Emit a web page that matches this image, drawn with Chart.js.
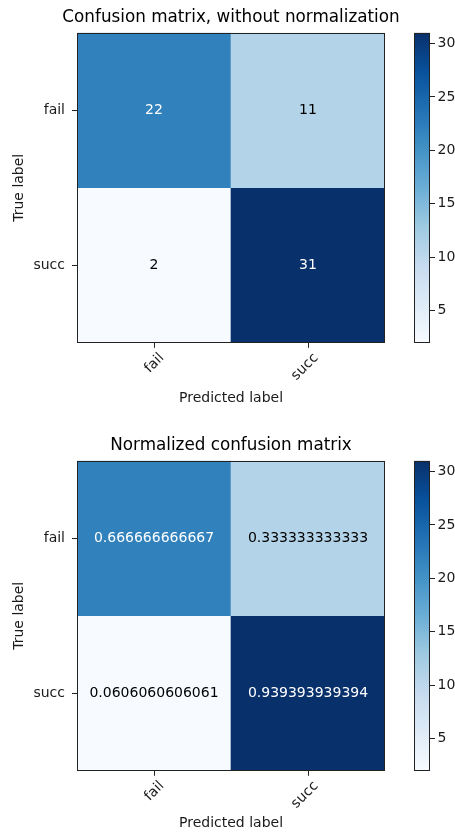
<!DOCTYPE html>
<html>
<head>
<meta charset="utf-8">
<script src="https://cdn.jsdelivr.net/npm/chart.js@4.4.0/dist/chart.umd.min.js"></script>
<style>
  html, body { margin: 0; padding: 0; background: #fff; }
  #wrap { position: relative; width: 455px; height: 832px; overflow: hidden; }
  canvas { position: absolute; }
</style>
</head>
<body>
<div id="wrap">
  <canvas id="m1" style="left:0;top:0;width:462px;height:408px" width="462" height="408"></canvas>
  <canvas id="c1" style="left:400px;top:0;width:55px;height:408px" width="55" height="408"></canvas>
  <canvas id="m2" style="left:0;top:428px;width:462px;height:404px" width="462" height="404"></canvas>
  <canvas id="c2" style="left:400px;top:428px;width:55px;height:404px" width="55" height="404"></canvas>
</div>
<script>
// ---- data ----
const classes = ['fail', 'succ'];
const counts = [[22, 11], [2, 31]];
const countLabels = [['22', '11'], ['2', '31']];
const normValues = [[0.666666666667, 0.333333333333], [0.0606060606061, 0.939393939394]];
const normLabels = [['0.666666666667', '0.333333333333'], ['0.0606060606061', '0.939393939394']];
const colorbarTicks = [5, 10, 15, 20, 25, 30];
const colorMin = 2;
const colorMax = 31;
const titles = ['Confusion matrix, without normalization', 'Normalized confusion matrix'];

// ---- style ----
const FONT = "'DejaVu Sans', sans-serif";
const INK = '#1a1a1a';
const BLUES = ['#f7fbff', '#deebf7', '#c6dbef', '#9ecae1', '#6baed6', '#4292c6', '#2171b5', '#08519c', '#08306b'];
Chart.defaults.font.family = FONT;
Chart.defaults.color = INK;

function hex(h) { return [parseInt(h.slice(1,3),16), parseInt(h.slice(3,5),16), parseInt(h.slice(5,7),16)]; }
function blues(v) {
  let t = (v - colorMin) / (colorMax - colorMin);
  t = Math.max(0, Math.min(1, t));
  const p = t * (BLUES.length - 1);
  const i = Math.min(Math.floor(p), BLUES.length - 2);
  const f = p - i;
  const a = hex(BLUES[i]), b = hex(BLUES[i + 1]);
  const c = a.map((x, k) => Math.round(x + (b[k] - x) * f));
  return `rgb(${c[0]},${c[1]},${c[2]})`;
}

const framePlugin = {
  id: 'frame',
  afterDraw(chart) {
    const a = chart.chartArea, c = chart.ctx;
    c.save();
    c.strokeStyle = '#222';
    c.lineWidth = 1;
    c.strokeRect(Math.round(a.left) + 0.5, Math.round(a.top) + 0.5, Math.round(a.right - a.left) - 1, Math.round(a.bottom - a.top) - 1);
    c.restore();
  }
};

const cellTextPlugin = {
  id: 'cellText',
  afterDatasetsDraw(chart, args, opts) {
    const c = chart.ctx, xs = chart.scales.x, ys = chart.scales.y;
    const maxV = Math.max(...opts.values.flat());
    c.save();
    c.font = '14px ' + FONT;
    c.textAlign = 'center';
    c.textBaseline = 'middle';
    opts.labels.forEach((row, i) => {
      row.forEach((txt, j) => {
        c.fillStyle = opts.values[i][j] > maxV / 2 ? '#ffffff' : '#000000';
        c.fillText(txt, xs.getPixelForValue(j), ys.getPixelForValue(i));
      });
    });
    c.restore();
  }
};

function makeMatrix(id, title, labels, values, xAxisH, xTitleBottom) {
  new Chart(document.getElementById(id), {
    type: 'bar',
    data: {
      labels: classes,
      datasets: counts.map((row, i) => ({
        data: row.map(() => [i - 0.5, i + 0.5]),
        backgroundColor: row.map(v => blues(v)),
        borderWidth: 0,
        grouped: false,
        barPercentage: 1,
        categoryPercentage: 1
      }))
    },
    options: {
      responsive: false,
      animation: false,
      events: [],
      layout: { padding: 0 },
      plugins: {
        legend: { display: false },
        tooltip: { enabled: false },
        title: {
          display: true, text: title, color: '#000',
          font: { size: 16.8, weight: 'normal', family: FONT },
          padding: { top: 8, bottom: 4.6 }
        },
        cellText: { labels: labels, values: values }
      },
      scales: {
        x: {
          type: 'category',
          offset: true,
          afterFit(s) { s.height = xAxisH; },
          grid: { offset: false, drawOnChartArea: false, drawTicks: true, tickLength: 5, color: '#222' },
          border: { display: false },
          ticks: { minRotation: 45, maxRotation: 45, padding: 2, labelOffset: 8, color: INK, font: { size: 14 } },
          title: { display: true, text: 'Predicted label', color: INK, font: { size: 14 }, padding: { top: 2, bottom: xTitleBottom } }
        },
        y: {
          type: 'linear',
          reverse: true,
          min: -0.5,
          max: 1.5,
          afterFit(s) { s.width = 77; },
          afterBuildTicks(s) { s.ticks = classes.map((_, i) => ({ value: i })); },
          grid: { drawOnChartArea: false, drawTicks: true, tickLength: 5, color: '#222' },
          border: { display: false },
          ticks: { padding: 7, color: INK, font: { size: 14 }, callback: v => classes[v] },
          title: { display: true, text: 'True label', color: INK, font: { size: 14 }, padding: { top: 10.6, bottom: 0 } }
        },
        yRightSpace: {
          type: 'linear',
          position: 'right',
          afterFit(s) { s.width = 77; },
          grid: { display: false },
          border: { display: false },
          ticks: { display: false }
        }
      }
    },
    plugins: [cellTextPlugin, framePlugin]
  });
}

function makeColorbar(id, padTop, padBottom) {
  new Chart(document.getElementById(id), {
    type: 'bar',
    data: {
      labels: ['colorbar'],
      datasets: [{
        data: [[colorMin, colorMax]],
        borderWidth: 0,
        barPercentage: 1,
        categoryPercentage: 1,
        backgroundColor(ctx) {
          const a = ctx.chart.chartArea;
          if (!a) return BLUES[4];
          const g = ctx.chart.ctx.createLinearGradient(0, a.bottom, 0, a.top);
          BLUES.forEach((col, k) => g.addColorStop(k / (BLUES.length - 1), col));
          return g;
        }
      }]
    },
    options: {
      responsive: false,
      animation: false,
      events: [],
      layout: { padding: { left: 14, right: 0, top: padTop, bottom: padBottom } },
      plugins: { legend: { display: false }, tooltip: { enabled: false } },
      scales: {
        x: { display: false },
        y: {
          type: 'linear',
          position: 'right',
          min: colorMin,
          max: colorMax,
          afterFit(s) { s.width = 25; },
          afterBuildTicks(s) { s.ticks = colorbarTicks.map(v => ({ value: v })); },
          grid: { drawOnChartArea: false, drawTicks: true, tickLength: 5, color: '#222' },
          border: { display: false },
          ticks: { padding: 2.5, color: INK, font: { size: 14 } }
        }
      }
    },
    plugins: [framePlugin]
  });
}

makeMatrix('m1', titles[0], countLabels, counts, 65.2, 1.6);
makeColorbar('c1', 32.8, 65.2);
makeMatrix('m2', titles[1], normLabels, normValues, 61.2, 0);
makeColorbar('c2', 32.8, 61.2);
</script>
</body>
</html>
